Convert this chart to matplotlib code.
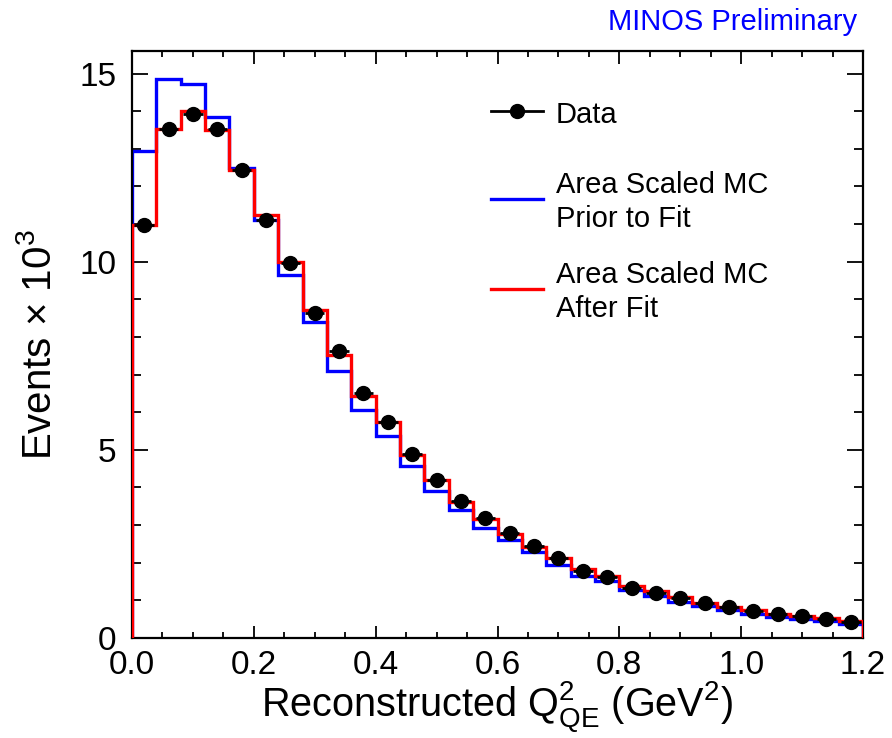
import matplotlib
matplotlib.use('Agg')
import matplotlib.pyplot as plt
import numpy as np
from matplotlib.ticker import MultipleLocator, FormatStrFormatter

plt.rcParams['font.family'] = ['Liberation Sans', 'DejaVu Sans']
plt.rcParams['mathtext.fontset'] = 'custom'
plt.rcParams['mathtext.rm'] = 'Liberation Sans'
plt.rcParams['mathtext.it'] = 'Liberation Sans:italic'
plt.rcParams['mathtext.bf'] = 'Liberation Sans:bold'

# ---- data (Events x 10^3 per 0.04 GeV^2 bin) ----
bin_edges = np.linspace(0.0, 1.2, 31)
data_vals = [10.97, 13.53, 13.93, 13.53, 12.43, 11.12, 9.97, 8.65, 7.64, 6.52,
             5.73, 4.88, 4.19, 3.65, 3.18, 2.80, 2.44, 2.12, 1.77, 1.63,
             1.34, 1.20, 1.06, 0.93, 0.82, 0.71, 0.63, 0.58, 0.51, 0.43]
mc_after = [10.97, 13.52, 14.00, 13.50, 12.44, 11.25, 10.00, 8.73, 7.52, 6.43,
            5.73, 4.87, 4.20, 3.62, 3.17, 2.76, 2.41, 2.13, 1.84, 1.66,
            1.39, 1.24, 1.08, 0.94, 0.83, 0.74, 0.63, 0.59, 0.53, 0.44]
mc_prior = [12.95, 14.85, 14.72, 13.85, 12.48, 11.10, 9.65, 8.40, 7.10, 6.07,
            5.37, 4.57, 3.91, 3.40, 2.92, 2.61, 2.28, 1.93, 1.66, 1.52,
            1.27, 1.12, 0.97, 0.85, 0.74, 0.65, 0.55, 0.50, 0.45, 0.38]
legend_labels = ["Data", "Area Scaled MC\nPrior to Fit", "Area Scaled MC\nAfter Fit"]

centers = 0.5 * (bin_edges[:-1] + bin_edges[1:])
half_w = 0.4 * (bin_edges[1] - bin_edges[0])

W, H = 892, 738
fig = plt.figure(figsize=(W / 100, H / 100), dpi=100)
ax = fig.add_axes([132 / W, 1 - 638 / H, 731 / W, 587 / H])

ax.stairs(mc_prior, bin_edges, color='#0000ff', lw=2.4, baseline=0, zorder=2)
ax.stairs(mc_after, bin_edges, color='#ff0000', lw=2.4, baseline=0, zorder=3)
ax.errorbar(centers, data_vals, xerr=half_w, fmt='o', color='black', ms=10,
            elinewidth=2, capsize=0, zorder=4)

ax.set_xlim(0, 1.2)
ax.set_ylim(0, 15.6)
ax.xaxis.set_major_locator(MultipleLocator(0.2))
ax.xaxis.set_minor_locator(MultipleLocator(0.05))
ax.yaxis.set_major_locator(MultipleLocator(5))
ax.yaxis.set_minor_locator(MultipleLocator(1))
ax.xaxis.set_major_formatter(FormatStrFormatter('%.1f'))
ax.tick_params(which='both', direction='in', top=True, right=True, width=1.3,
               labelsize=24, colors='black')
ax.xaxis.set_tick_params(which='major', length=9, pad=9)
ax.xaxis.set_tick_params(which='minor', length=4.5)
ax.yaxis.set_tick_params(which='major', length=11.5, pad=11)
ax.yaxis.set_tick_params(which='minor', length=6.5)
for s in ax.spines.values():
    s.set_linewidth(1.6)

# axis titles
fig.text(497 / W, 1 - 716 / H, r'Reconstructed $\mathregular{Q^{2}_{QE}}$ (GeV$\mathregular{^{2}}$)',
         ha='center', va='baseline', fontsize=28.5)
fig.text(40 / W, 1 - 345 / H, r'Events $\mathregular{\times}$ 10$\mathregular{^{3}}$',
         ha='center', va='center', rotation=90, fontsize=29)

fig.text(857 / W, 1 - 30 / H, 'MINOS Preliminary', ha='right', va='baseline',
         color='#0000ff', fontsize=21)

# legend (drawn manually to mimic ROOT layout)
tr = ax.transAxes
lx0, lx1, tx = 0.4907, 0.5622, 0.5800
ax.plot([lx0, lx1], [0.8978, 0.8978], transform=tr, color='black', lw=2, clip_on=False)
ax.plot([(lx0 + lx1) / 2], [0.8978], 'o', transform=tr, color='black', ms=10, clip_on=False)
ax.plot([lx0, lx1], [0.7479, 0.7479], transform=tr, color='#0000ff', lw=2.4, clip_on=False)
ax.plot([lx0, lx1], [0.5945, 0.5945], transform=tr, color='#ff0000', lw=2.4, clip_on=False)
line_sets = [(legend_labels[0], [0.8768]),
             (legend_labels[1], [0.7586, 0.7007]),
             (legend_labels[2], [0.6053, 0.5474])]
for lab, ys in line_sets:
    for part, yy in zip(lab.split('\n'), ys):
        ax.text(tx, yy, part, transform=tr, ha='left', va='baseline', fontsize=21)

fig.savefig('out.png', dpi=100)
